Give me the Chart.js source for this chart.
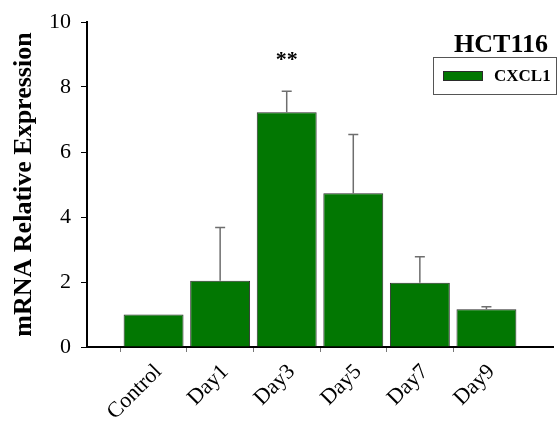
<!DOCTYPE html>
<html>
<head>
<meta charset="utf-8">
<script src="https://cdn.jsdelivr.net/npm/chart.js@4"></script>
<style>
  html, body { margin: 0; padding: 0; background: #fff; }
  #wrap { width: 558px; height: 422px; }
</style>
</head>
<body>
<div id="wrap"><canvas id="c" width="558" height="422"></canvas></div>
<script>
// CXCL1 relative mRNA expression in HCT116 cells over time
const categories = ['Control', 'Day1', 'Day3', 'Day5', 'Day7', 'Day9'];
const means = [1.0, 2.04, 7.22, 4.73, 1.98, 1.16];
const errors = [0, 1.64, 0.65, 1.81, 0.80, 0.08];
const significance = ['', '', '**', '', '', ''];
const yTicks = [0, 2, 4, 6, 8, 10];
const seriesName = 'CXCL1';
const cellLine = 'HCT116';

const SERIF = '"Liberation Serif", "Times New Roman", serif';
const BAR_FILL = '#027702';
const BAR_EDGE = '#2b2b2b';

// one empty slot on each side of the categories
const labels = ['', ...categories, ''];
const values = [null, ...means, null];

const overlay = {
  id: 'overlay',
  afterDatasetsDraw(chart) {
    const { ctx } = chart;
    const y = chart.scales.y;
    const meta = chart.getDatasetMeta(0);
    ctx.save();
    // upper error bars and significance marks
    meta.data.forEach((bar, i) => {
      const k = i - 1;
      if (k < 0 || k >= means.length) return;
      const topVal = means[k] + errors[k];
      const yTop = y.getPixelForValue(topVal);
      if (errors[k] > 0) {
        ctx.strokeStyle = '#6e6e6e';
        ctx.lineWidth = 1.5;
        ctx.beginPath();
        ctx.moveTo(bar.x, bar.y);
        ctx.lineTo(bar.x, yTop);
        ctx.moveTo(bar.x - 5, yTop);
        ctx.lineTo(bar.x + 5, yTop);
        ctx.stroke();
      }
      if (significance[k]) {
        ctx.fillStyle = '#000';
        ctx.font = 'bold 22px ' + SERIF;
        ctx.textAlign = 'center';
        ctx.textBaseline = 'middle';
        ctx.fillText(significance[k], bar.x, yTop - 31);
      }
    });
    // title and legend box
    ctx.fillStyle = '#000';
    ctx.font = 'bold 26px ' + SERIF;
    ctx.textAlign = 'center';
    ctx.textBaseline = 'alphabetic';
    ctx.fillText(cellLine, 501, 52);

    ctx.strokeStyle = '#555';
    ctx.lineWidth = 1;
    ctx.strokeRect(433.5, 57.5, 123, 37);
    ctx.fillStyle = BAR_FILL;
    ctx.fillRect(443, 71, 40, 10);
    ctx.strokeStyle = BAR_EDGE;
    ctx.strokeRect(443.5, 71.5, 39, 9);
    ctx.fillStyle = '#000';
    ctx.font = 'bold 17px ' + SERIF;
    ctx.textAlign = 'left';
    ctx.textBaseline = 'middle';
    ctx.fillText(seriesName, 494, 77);
    ctx.restore();
  }
};

new Chart(document.getElementById('c'), {
  type: 'bar',
  data: {
    labels: labels,
    datasets: [{
      label: seriesName,
      data: values,
      backgroundColor: BAR_FILL,
      borderColor: BAR_EDGE,
      borderWidth: 1,
      borderSkipped: 'bottom',
      barPercentage: 0.9,
      categoryPercentage: 1.0
    }]
  },
  options: {
    responsive: false,
    animation: false,
    devicePixelRatio: 1,
    layout: { padding: { top: 22, right: 5, left: 0, bottom: 0 } },
    plugins: { legend: { display: false }, tooltip: { enabled: false } },
    scales: {
      x: {
        type: 'category',
        offset: false,
        afterFit(scale) {
          scale.height = 75;
          scale.paddingLeft = 0;
          scale.paddingRight = 0;
        },
        border: { display: true, color: '#000', width: 2 },
        grid: {
          drawOnChartArea: false,
          drawTicks: true,
          tickLength: 5,
          color: (c) => (c.tick && c.tick.label === '') ? 'rgba(0,0,0,0)' : '#777'
        },
        ticks: {
          autoSkip: false,
          minRotation: 45,
          maxRotation: 45,
          padding: 7,
          labelOffset: 5,
          color: '#000',
          font: { family: SERIF, size: 22 }
        }
      },
      y: {
        min: 0,
        max: 10,
        afterFit(scale) {
          scale.width = 87;
          scale.paddingTop = 0;
          scale.paddingBottom = 0;
        },
        afterBuildTicks(scale) { scale.ticks = yTicks.map(v => ({ value: v })); },
        border: { display: true, color: '#000', width: 2 },
        grid: { drawOnChartArea: false, drawTicks: true, tickLength: 6, color: '#000' },
        ticks: {
          padding: 10,
          color: '#000',
          font: { family: SERIF, size: 22 }
        },
        title: {
          display: true,
          text: 'mRNA Relative Expression',
          color: '#000',
          font: { family: SERIF, size: 26, weight: 'bold' },
          padding: { top: 9, bottom: 0 }
        }
      }
    }
  },
  plugins: [overlay]
});
</script>
</body>
</html>
